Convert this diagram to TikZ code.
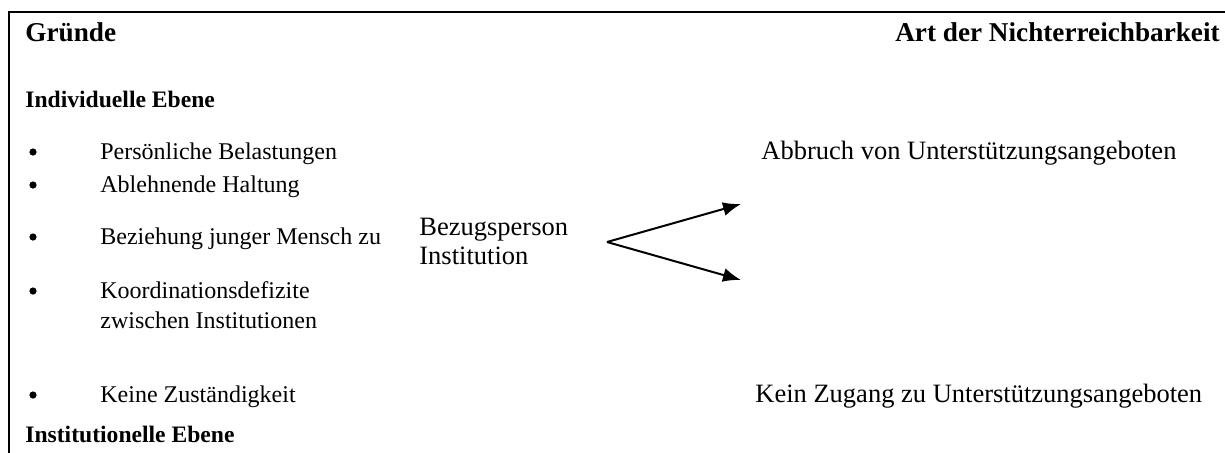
\documentclass[tikz,border=0pt]{standalone}
\usepackage{fontspec}
\setmainfont{Liberation Serif}
\usetikzlibrary{arrows.meta,positioning}

\begin{document}
\begin{tikzpicture}
		[x=0.5pt,y=-0.5pt,
		txt/.style ={anchor=base west, inner sep=0pt, font=\fontsize{12}{14}\selectfont},
		big/.style ={anchor=base west, inner sep=0pt, font=\fontsize{13.25}{16}\selectfont},
		head/.style ={anchor=base west, inner sep=0pt, font=\fontsize{13.6}{16}\selectfont\bfseries},
		level/.style ={anchor=base west, inner sep=0pt, font=\fontsize{11.8}{14}\selectfont\bfseries},
		dot/.style ={circle, fill=black, inner sep=0pt, minimum size=3.6pt},
		line/.style ={draw, line width=1pt, -{Latex[length=9pt,width=7pt]}},
		frame/.style ={draw, line width=1.3pt}]
		\useasboundingbox (0,0) rectangle (1225,452);
		\draw[frame] (9,470) -- (9,12) -- (1240,12);
		% headings
		\draw (25,41) node[head] (G) {Gründe};
		\draw (1220,41) node[head,anchor=base east] (N) {Art der Nichterreichbarkeit};
		\draw (25,107) node[level] (IE) {Individuelle Ebene};
		\draw (25,442) node[level] (INE) {Institutionelle Ebene};
		% bullets
		\draw (33,152) node[dot] (B1) {};
		\draw (33,185) node[dot] (B2) {};
		\draw (33,237) node[dot] (B3) {};
		\draw (33,291) node[dot] (B4) {};
		\draw (33,395) node[dot] (B5) {};
		\draw (100,159) node[txt] (P1) {Persönliche Belastungen};
		\draw (100,192) node[txt] (P2) {Ablehnende Haltung};
		\draw (100,244) node[txt] (P3) {Beziehung junger Mensch zu};
		\draw (100,298) node[txt] (P4) {Koordinationsdefizite};
		\draw (100,328) node[txt] (P4b) {zwischen Institutionen};
		\draw (100,402) node[txt] (P5) {Keine Zuständigkeit};
		\draw (419,235) node[big] (BP) {Bezugsperson};
		\draw (419,264) node[big] (IN) {Institution};
		\draw (761,159) node[big] (AB) {Abbruch von Unterstützungsangeboten};
		\draw (755,402) node[big] (KZ) {Kein Zugang zu Unterstützungsangeboten};
		% fork
		\coordinate (F) at (607,242);
		\coordinate (U) at (741,204);
		\coordinate (D) at (741,280);
		\path[line] (F) -- (U);
		\path[line] (F) -- (D);

	\end{tikzpicture}
\end{document}
